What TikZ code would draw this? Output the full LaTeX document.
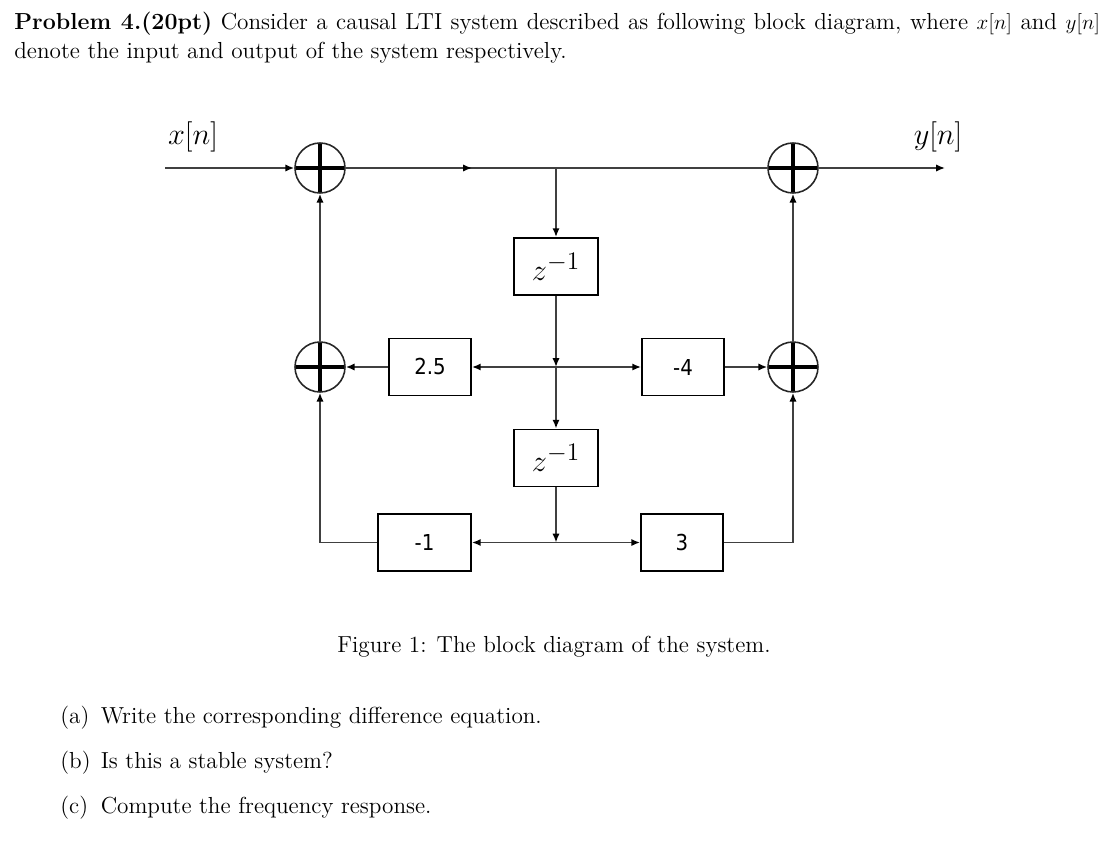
\documentclass[tikz,border=0pt]{standalone}
\usepackage{fontspec}
\newfontfamily\gainfont{DejaVu Sans Condensed}
\usetikzlibrary{arrows.meta}
\begin{document}
\begin{tikzpicture}[x=0.02cm,y=-0.02cm,
  wire/.style={draw=black!75,line width=1.1pt},
  arr/.style={wire,-{Latex[length=5pt,width=4.2pt,black]}},
  adder/.style={circle,draw=black!85,line width=0.9pt,minimum size=1cm,inner sep=0pt,
    path picture={\draw[black,line width=1.8pt]
      (path picture bounding box.north) -- (path picture bounding box.south)
      (path picture bounding box.west) -- (path picture bounding box.east);}},
  gain/.style={draw,line width=1.1pt,minimum height=1.14cm,inner sep=0pt,font=\gainfont\fontsize{12.5}{14}\selectfont},
  delay/.style={draw,line width=1.1pt,minimum width=1.69cm,minimum height=1.14cm,inner sep=0pt,font=\fontsize{19}{22}\selectfont},
  sig/.style={font=\fontsize{18.5}{21}\selectfont},
  txt/.style={inner sep=0pt,font=\fontsize{13.2}{15.85}\selectfont}
]
\useasboundingbox (0,0) rectangle (1116,845);
% header text
\node[txt,anchor=base west] (h1) at (14,30) {\makebox[618pt][s]{\textbf{Problem 4.(20pt)} Consider a causal LTI system described as following block diagram, where $x[n]$ and $y[n]$}};
\node[txt,anchor=base west] (h2) at (14,58) {denote the input and output of the system respectively.};
% adders
\node[adder] (a1) at (320,168) {};
\node[adder] (a2) at (320,367) {};
\node[adder] (a3) at (793,168) {};
\node[adder] (a4) at (793,367) {};
% blocks
\node[delay] (z1) at (556,266.5) {$z^{-1}$};
\node[delay] (z2) at (556,458) {$z^{-1}$};
\node[gain,minimum width=1.64cm] (g25) at (430,367) {2.5};
\node[gain,minimum width=1.64cm] (gm4) at (683,367) {-4};
\node[gain,minimum width=1.86cm] (gm1) at (424.5,542.5) {-1};
\node[gain,minimum width=1.64cm] (g3) at (682,542.5) {3};
% signal labels
\node[sig] (xl) at (193,137) {$x[n]$};
\node[sig] (yl) at (938,137) {$y[n]$};
% coordinates
\coordinate (in) at (165,168);
\coordinate (out) at (945,168);
\coordinate (mid) at (472,168);
\coordinate (j1) at (556,168);
\coordinate (j2) at (556,367);
\coordinate (j3) at (556,542.5);
% connectors
\draw[arr] (in) -- (a1.west);
\draw[wire] (a1.east) -- (a3.west);
\draw[arr] (a1.east) -- (mid);
\draw[arr] (a3.east) -- (out);
\draw[arr] (j1) -- (z1.north);
\draw[arr] (z1.south) -- (j2);
\draw[arr] (j2) -- (z2.north);
\draw[arr] (j2) -- (g25.east);
\draw[arr] (g25.west) -- (a2.east);
\draw[arr] (j2) -- (gm4.west);
\draw[arr] (gm4.east) -- (a4.west);
\draw[arr] (a2.north) -- (a1.south);
\draw[arr] (a4.north) -- (a3.south);
\draw[arr] (z2.south) -- (j3);
\draw[arr] (j3) -- (gm1.east);
\draw[arr] (j3) -- (g3.west);
\draw[arr] (gm1.west) -| (a2.south);
\draw[arr] (g3.east) -| (a4.south);
% caption and questions
\node[txt,anchor=base] (cap) at (554,652) {Figure 1: The block diagram of the system.};
\node[txt,anchor=base west] (qa) at (60,723) {\makebox[23pt][l]{(a)}Write the corresponding difference equation.};
\node[txt,anchor=base west] (qb) at (60,768) {\makebox[23pt][l]{(b)}Is this a stable system?};
\node[txt,anchor=base west] (qc) at (60,813) {\makebox[23pt][l]{(c)}Compute the frequency response.};
\end{tikzpicture}
\end{document}
